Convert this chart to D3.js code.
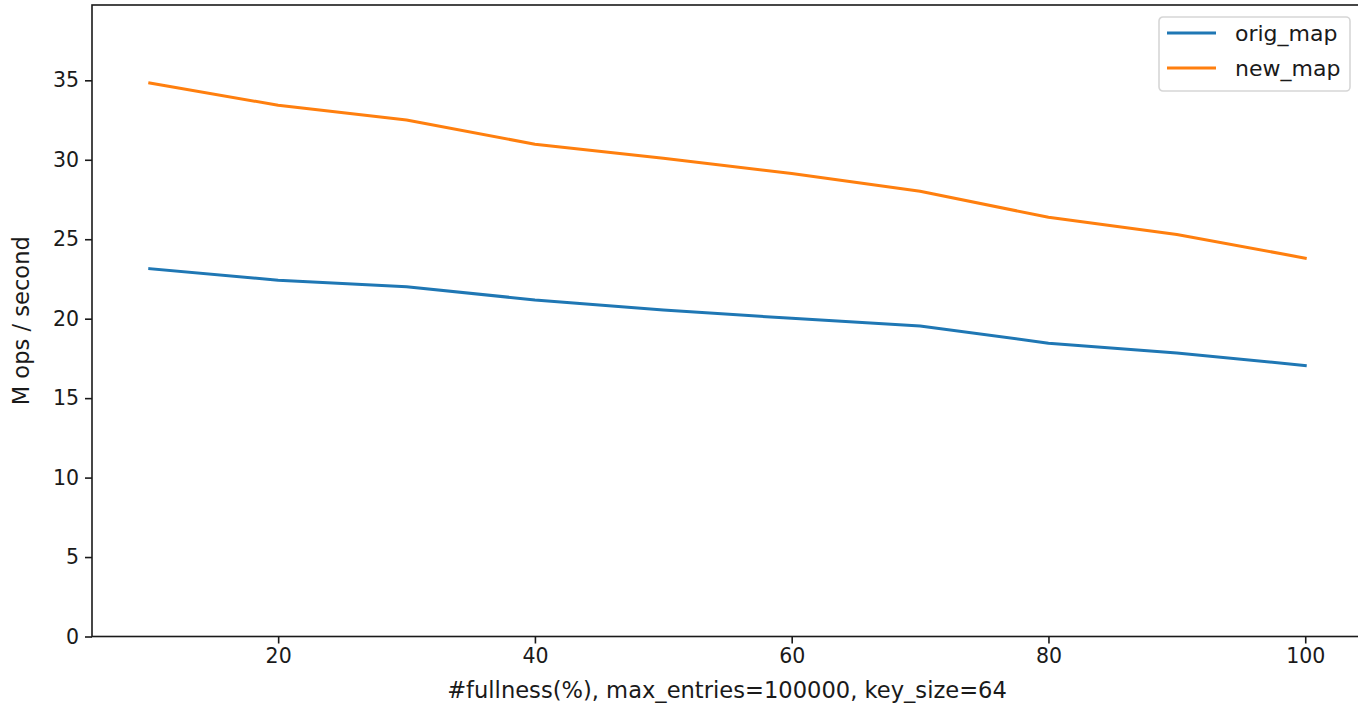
<!DOCTYPE html>
<html>
<head>
<meta charset="utf-8">
<script src="https://cdn.jsdelivr.net/npm/d3@7"></script>
<style>
  html, body { margin: 0; padding: 0; background: #fff; }
  svg { display: block; font-family: "DejaVu Sans", sans-serif; }
</style>
</head>
<body>
<svg id="chart" width="1358" height="708"></svg>
<script>
// Throughput of the two map implementations versus fill level
const fullness = [10, 20, 30, 40, 50, 60, 70, 80, 90, 100];
const origMap = [23.15, 22.42, 22.01, 21.18, 20.55, 20.02, 19.54, 18.46, 17.84, 17.05];
const newMap  = [34.83, 33.43, 32.50, 30.98, 30.10, 29.13, 28.02, 26.38, 25.30, 23.81];
const seriesNames = ["orig_map", "new_map"];
const seriesColors = ["#1f77b4", "#ff7f0e"];
const xTicks = [20, 40, 60, 80, 100];
const yTicks = [0, 5, 10, 15, 20, 25, 30, 35];
const xLabel = "#fullness(%), max_entries=100000, key_size=64";
const yLabel = "M ops / second";

const svg = d3.select("#chart");
const plot = { left: 92, right: 1363, top: 5, bottom: 636.5 };

const x = d3.scaleLinear().domain([5.5, 104.5]).range([plot.left, plot.right]);
const y = d3.scaleLinear().domain([0, 39.74]).range([plot.bottom, plot.top]);

const tickFont = 20.5;
const labelFont = 22.6;
const legendFont = 22;
const axisColor = "#1a1a1a";

// Axes
const xAxis = svg.append("g")
  .attr("transform", `translate(0,${plot.bottom})`)
  .call(d3.axisBottom(x).tickValues(xTicks).tickSize(7).tickPadding(5).tickFormat(d3.format("d")));
const yAxis = svg.append("g")
  .attr("transform", `translate(${plot.left},0)`)
  .call(d3.axisLeft(y).tickValues(yTicks).tickSize(7).tickPadding(6).tickFormat(d3.format("d")));

[xAxis, yAxis].forEach(g => {
  g.select(".domain").remove();
  g.selectAll(".tick line").attr("stroke", axisColor).attr("stroke-width", 1.6);
  g.selectAll(".tick text").attr("fill", axisColor)
    .style("font-size", tickFont + "px").style("font-family", "DejaVu Sans");
});

// Lines
const series = [origMap, newMap];
const line = d3.line().x((d, i) => x(fullness[i])).y(d => y(d));
series.forEach((vals, k) => {
  svg.append("path")
    .datum(vals)
    .attr("fill", "none")
    .attr("stroke", seriesColors[k])
    .attr("stroke-width", 3)
    .attr("stroke-linejoin", "round")
    .attr("stroke-linecap", "square")
    .attr("d", line);
});

// Spines
svg.append("rect")
  .attr("x", plot.left).attr("y", plot.top)
  .attr("width", plot.right - plot.left).attr("height", plot.bottom - plot.top)
  .attr("fill", "none").attr("stroke", axisColor).attr("stroke-width", 1.6);

// Axis titles
svg.append("text")
  .attr("x", 727)
  .attr("y", 698)
  .attr("text-anchor", "middle")
  .attr("fill", axisColor)
  .style("font-size", labelFont + "px")
  .text(xLabel);

svg.append("text")
  .attr("transform", `translate(29,${(plot.top + plot.bottom) / 2}) rotate(-90)`)
  .attr("text-anchor", "middle")
  .attr("fill", axisColor)
  .style("font-size", labelFont + "px")
  .text(yLabel);

// Legend
const legend = svg.append("g").attr("transform", "translate(1159,17)");
legend.append("rect")
  .attr("width", 191).attr("height", 74).attr("rx", 4)
  .attr("fill", "#fff").attr("fill-opacity", 0.8)
  .attr("stroke", "#d6d6d6").attr("stroke-width", 1.6);
seriesNames.forEach((name, k) => {
  const cy = 16 + k * 35;
  legend.append("line")
    .attr("x1", 8).attr("x2", 57).attr("y1", cy).attr("y2", cy)
    .attr("stroke", seriesColors[k]).attr("stroke-width", 3);
  legend.append("text")
    .attr("x", 76).attr("y", cy).attr("dy", "0.35em")
    .attr("fill", axisColor)
    .style("font-size", legendFont + "px")
    .text(name);
});
</script>
</body>
</html>
